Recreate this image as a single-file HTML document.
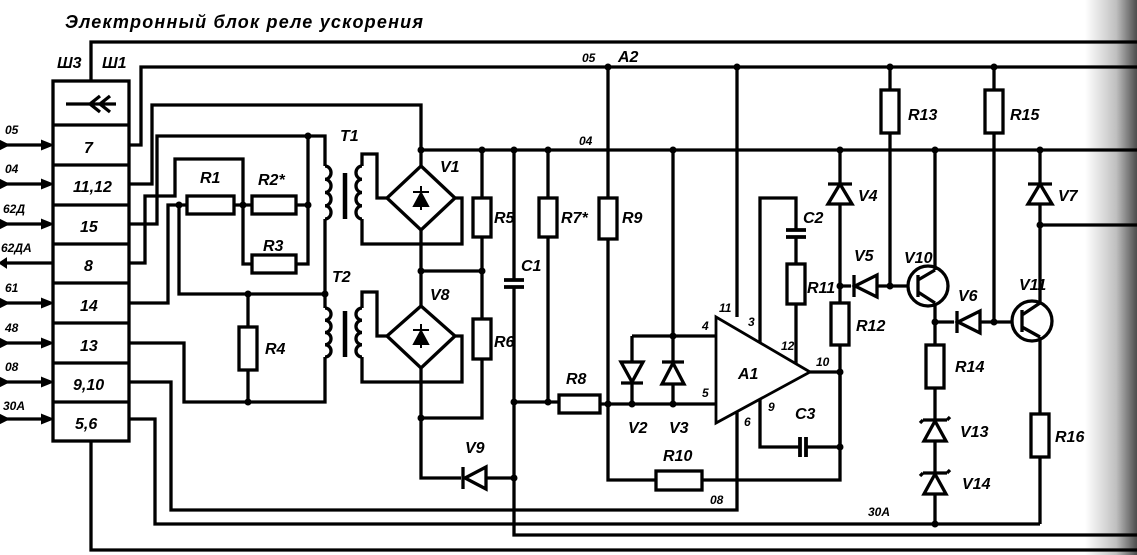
<!DOCTYPE html>
<html><head><meta charset="utf-8"><style>
html,body{margin:0;padding:0;background:#fff;}
svg{display:block;}
text{font-family:"Liberation Sans",sans-serif;font-weight:bold;font-style:italic;fill:#000;}
</style></head><body>
<svg width="1137" height="555" viewBox="0 0 1137 555" xmlns="http://www.w3.org/2000/svg">
<defs>
<linearGradient id="g" x1="0" x2="1" y1="0" y2="0">
<stop offset="0" stop-color="#000" stop-opacity="0"/>
<stop offset="0.6" stop-color="#000" stop-opacity="0.25"/>
<stop offset="1" stop-color="#000" stop-opacity="0.7"/>
</linearGradient>
</defs>
<rect width="1137" height="555" fill="#fff"/>
<text x="65" y="28" font-size="18" letter-spacing="1.2">Электронный блок реле ускорения</text>

<g stroke="#000" stroke-width="3.3" fill="none" stroke-linejoin="miter">
<rect x="53" y="81" width="76" height="360"/>
<path d="M53 125H129M53 165H129M53 205H129M53 244H129M53 283H129M53 323H129M53 363H129M53 402H129"/>
<path d="M66 104H116M100 96L90 104L100 112M110 96L100 104L110 112"/>
<path d="M91 81V42H1137"/>
<path d="M129 145H141V67H1137"/>
<path d="M129 184H152V105H421V150H1137"/>
<path d="M129 224H157V136H325V166"/>
<path d="M308 136V264H296"/>
<path d="M129 263H145V196H175V159H243V264H252"/>
<path d="M179 205H187M234 205H252M296 205H308"/>
<path d="M129 303H168V205H179V294H325"/>
<path d="M325 219V294V308"/>
<path d="M248 294V327M248 370V402"/>
<path d="M129 343H184V402H325V357"/>
<path d="M0 145H50M0 184H50M0 224H50M6 263H53M0 303H50M0 343H50M0 382H50M0 419H50"/>
<path d="M362 166V154H377V198H387M362 219V244H462V198H453"/>
<path d="M362 308V292H377V336H387M362 357V382H462V336H453"/>
<path d="M421 150V166M421 230V306M421 368V478H461M486 478H514"/>
<path d="M421 271H482"/>
<path d="M482 150V198M482 237V319M482 359V418H421"/>
<path d="M514 150V280M514 287V535H1137"/>
<path d="M514 402H548V237M548 150V198M548 402H559M600 404H608"/>
<path d="M608 67V198M608 239V480H656M702 480H840V372"/>
<path d="M608 404H716M632 336V404M673 150V404M632 336H716"/>
<path d="M737 67V317"/>
<path d="M760 343V198H796V230M796 237V264M796 304V364"/>
<path d="M810 372H840"/>
<path d="M840 150V286V303M840 345V447"/>
<path d="M760 399V447H800M806 447H840"/>
<path d="M737 411V510H171V382H129"/>
<path d="M129 419H155V524H1040"/>
<path d="M91 441V550H1137"/>
<path d="M890 67V90M890 133V286H877M851 286H840"/>
<path d="M994 67V90M994 133V322H980M954 322H935"/>
<path d="M890 286H908"/>
<path d="M994 322H1012"/>
<path d="M935 150V270M935 303V345M935 388V524"/>
<path d="M1040 150V303M1040 225H1137M1040 337V414M1040 457V524"/>
<rect x="187" y="196" width="47" height="18"/>
<rect x="252" y="196" width="44" height="18"/>
<rect x="252" y="255" width="44" height="18"/>
<rect x="239" y="327" width="18" height="43"/>
<rect x="473" y="198" width="18" height="39"/>
<rect x="473" y="319" width="18" height="40"/>
<rect x="539" y="198" width="18" height="39"/>
<rect x="599" y="198" width="18" height="41"/>
<rect x="559" y="395" width="41" height="18"/>
<rect x="656" y="471" width="46" height="19"/>
<rect x="787" y="264" width="18" height="40"/>
<rect x="831" y="303" width="18" height="42"/>
<rect x="881" y="90" width="18" height="43"/>
<rect x="985" y="90" width="18" height="43"/>
<rect x="926" y="345" width="18" height="43"/>
<rect x="1031" y="414" width="18" height="43"/>
<path d="M504 280H524M504 287H524M786 230H806M786 237H806M800 437V457M806 437V457" stroke-width="3.8"/>
<path d="M325 166a6 6.6 0 0 1 0 13.25a6 6.6 0 0 1 0 13.25a6 6.6 0 0 1 0 13.25a6 6.6 0 0 1 0 13.25"/>
<path d="M362 166a6 6.6 0 0 0 0 13.25a6 6.6 0 0 0 0 13.25a6 6.6 0 0 0 0 13.25a6 6.6 0 0 0 0 13.25"/>
<path d="M325 308a6 6.1 0 0 1 0 12.25a6 6.1 0 0 1 0 12.25a6 6.1 0 0 1 0 12.25a6 6.1 0 0 1 0 12.25"/>
<path d="M362 308a6 6.1 0 0 0 0 12.25a6 6.1 0 0 0 0 12.25a6 6.1 0 0 0 0 12.25a6 6.1 0 0 0 0 12.25"/>
<path d="M345 173V219M345 311V357" stroke-width="4.5"/>
<path d="M421 166L455 198L421 230L387 198Z"/>
<path d="M421 306L455 336L421 368L387 336Z"/>
<circle cx="928" cy="286" r="20"/>
<circle cx="1032" cy="321" r="20"/>
<path d="M918 275V297M918 280L935 270M918 292L935 303"/>
<path d="M1022 310V332M1022 315L1040 303M1022 327L1040 337"/>
<path d="M716 317L810 372L716 423Z" stroke-width="2.8"/>
<path d="M923 420H947M923 420l-3 3M947 420l3-3M923 473H947M923 473l-3 3M947 473l3-3"/>
</g>
<g stroke="#000" stroke-width="3.3" fill="#fff">
<path d="M828 204H852L840 184Z"/><path d="M828 184H852" fill="none"/>
<path d="M1028 204H1052L1040 184Z"/><path d="M1028 184H1052" fill="none"/>
<path d="M877 275V297L855 286Z"/><path d="M854 275V297" fill="none"/>
<path d="M980 311V333L958 322Z"/><path d="M957 311V333" fill="none"/>
<path d="M486 467V489L465 478Z"/><path d="M463 467V489" fill="none"/>
<path d="M621 362H643L632 382Z"/><path d="M621 383H643" fill="none"/>
<path d="M662 384H684L673 363Z"/><path d="M662 362H684" fill="none"/>
<path d="M924 441H946L935 421Z"/>
<path d="M924 494H946L935 474Z"/>
</g>
<g fill="#000" stroke="#000" stroke-width="2">
<path d="M414 206H428L421 193Z"/><path d="M413 192H429M421 186V210" fill="none"/>
<path d="M414 344H428L421 331Z"/><path d="M413 330H429M421 324V348" fill="none"/>
<path d="M0 141L8 145L0 149Z"/><path d="M0 180L8 184L0 188Z"/><path d="M0 220L8 224L0 228Z"/>
<path d="M6 259L0 263L6 267Z"/><path d="M0 299L8 303L0 307Z"/><path d="M0 339L8 343L0 347Z"/>
<path d="M0 378L8 382L0 386Z"/><path d="M0 415L8 419L0 423Z"/>
<path d="M42 141L52 145L42 149Z"/><path d="M42 180L52 184L42 188Z"/><path d="M42 220L52 224L42 228Z"/>
<path d="M42 299L52 303L42 307Z"/><path d="M42 339L52 343L42 347Z"/><path d="M42 378L52 382L42 386Z"/><path d="M42 415L52 419L42 423Z"/>
</g>
<g fill="#000">
<circle cx="421" cy="150" r="3.5"/><circle cx="482" cy="150" r="3.5"/><circle cx="514" cy="150" r="3.5"/><circle cx="548" cy="150" r="3.5"/>
<circle cx="308" cy="136" r="3.5"/><circle cx="308" cy="205" r="3.5"/><circle cx="243" cy="205" r="3.5"/><circle cx="179" cy="205" r="3.5"/>
<circle cx="325" cy="294" r="3.5"/><circle cx="248" cy="294" r="3.5"/><circle cx="248" cy="402" r="3.5"/>
<circle cx="421" cy="271" r="3.5"/><circle cx="482" cy="271" r="3.5"/><circle cx="421" cy="418" r="3.5"/>
<circle cx="514" cy="402" r="3.5"/><circle cx="548" cy="402" r="3.5"/><circle cx="514" cy="478" r="3.5"/>
<circle cx="608" cy="67" r="3.5"/><circle cx="737" cy="67" r="3.5"/><circle cx="890" cy="67" r="3.5"/><circle cx="994" cy="67" r="3.5"/>
<circle cx="673" cy="150" r="3.5"/><circle cx="840" cy="150" r="3.5"/><circle cx="935" cy="150" r="3.5"/><circle cx="1040" cy="150" r="3.5"/>
<circle cx="608" cy="404" r="3.5"/><circle cx="632" cy="404" r="3.5"/><circle cx="673" cy="404" r="3.5"/><circle cx="673" cy="336" r="3.5"/>
<circle cx="840" cy="286" r="3.5"/><circle cx="890" cy="286" r="3.5"/><circle cx="840" cy="372" r="3.5"/><circle cx="840" cy="447" r="3.5"/>
<circle cx="935" cy="322" r="3.5"/><circle cx="994" cy="322" r="3.5"/><circle cx="1040" cy="225" r="3.5"/><circle cx="935" cy="524" r="3.5"/>
</g>
<g font-size="16">
<text x="57" y="68">Ш3</text><text x="102" y="68">Ш1</text>
<text x="84" y="153">7</text><text x="73" y="192">11,12</text><text x="80" y="232">15</text><text x="84" y="271">8</text>
<text x="80" y="311">14</text><text x="80" y="351">13</text><text x="73" y="390">9,10</text><text x="75" y="429">5,6</text>
<text x="5" y="134" font-size="12">05</text><text x="5" y="173" font-size="12">04</text><text x="3" y="213" font-size="12">62Д</text>
<text x="1" y="252" font-size="12">62ДА</text><text x="5" y="292" font-size="12">61</text><text x="5" y="332" font-size="12">48</text>
<text x="5" y="371" font-size="12">08</text><text x="3" y="410" font-size="12">30А</text>
<text x="200" y="183">R1</text><text x="258" y="185">R2*</text><text x="263" y="251">R3</text><text x="265" y="354">R4</text>
<text x="340" y="141">T1</text><text x="332" y="282">T2</text><text x="440" y="172">V1</text><text x="430" y="300">V8</text>
<text x="494" y="223">R5</text><text x="494" y="347">R6</text><text x="521" y="271">C1</text><text x="465" y="453">V9</text>
<text x="561" y="223">R7*</text><text x="622" y="223">R9</text><text x="566" y="384">R8</text>
<text x="582" y="62" font-size="12">05</text><text x="618" y="62">A2</text><text x="579" y="145" font-size="12">04</text>
<text x="628" y="433">V2</text><text x="669" y="433">V3</text><text x="663" y="461">R10</text><text x="710" y="504" font-size="12">08</text>
<text x="719" y="312" font-size="12">11</text><text x="748" y="326" font-size="12">3</text><text x="702" y="330" font-size="12">4</text>
<text x="781" y="350" font-size="12">12</text><text x="816" y="366" font-size="12">10</text><text x="738" y="379">A1</text>
<text x="702" y="397" font-size="12">5</text><text x="768" y="411" font-size="12">9</text><text x="744" y="426" font-size="12">6</text>
<text x="795" y="419">C3</text><text x="803" y="223">C2</text><text x="807" y="293">R11</text><text x="856" y="331">R12</text>
<text x="858" y="201">V4</text><text x="854" y="261">V5</text><text x="904" y="263">V10</text><text x="908" y="120">R13</text>
<text x="1010" y="120">R15</text><text x="1058" y="201">V7</text><text x="958" y="301">V6</text><text x="1019" y="290">V11</text>
<text x="955" y="372">R14</text><text x="960" y="437">V13</text><text x="962" y="489">V14</text><text x="1055" y="442">R16</text>
<text x="868" y="516" font-size="12">30А</text>
</g>
<rect x="1085" y="0" width="52" height="555" fill="url(#g)"/>
</svg>
</body></html>
